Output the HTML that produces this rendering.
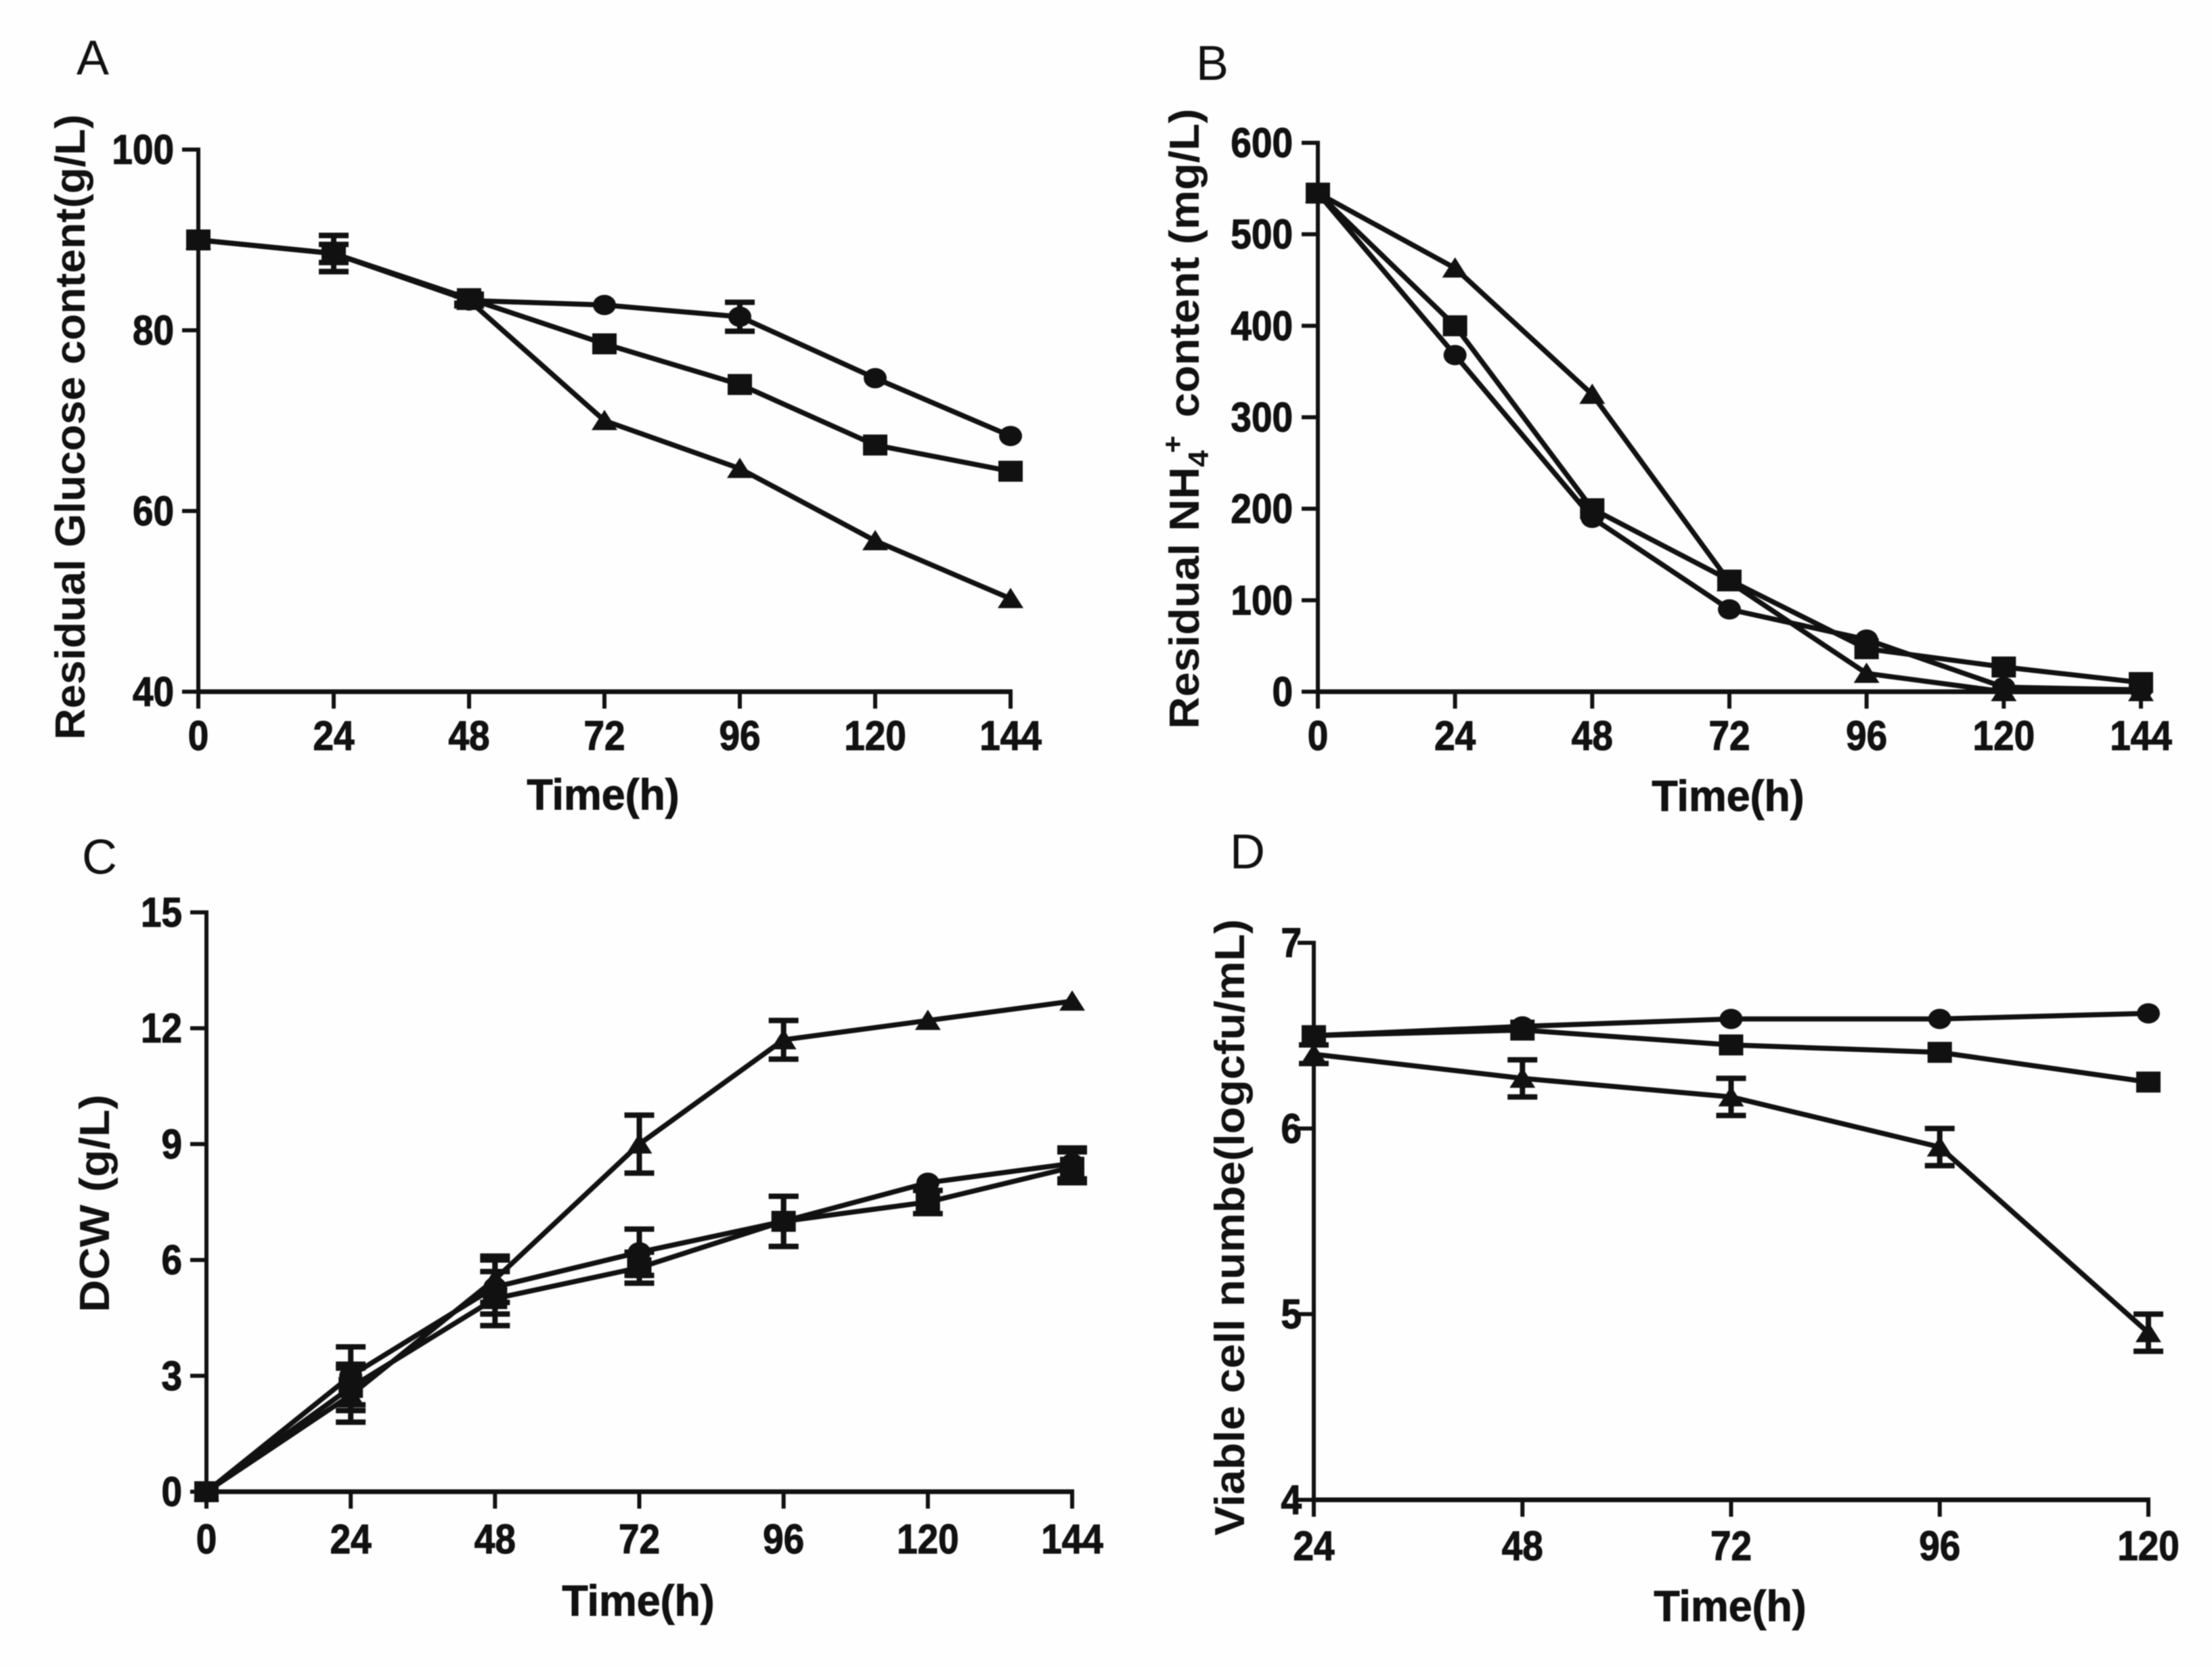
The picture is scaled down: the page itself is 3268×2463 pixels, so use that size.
<!DOCTYPE html>
<html>
<head>
<meta charset="utf-8">
<title>Fermentation time courses</title>
<style>
html,body{margin:0;padding:0;background:#fefefe;}
svg{display:block;filter:blur(0.8px);}
text{font-family:"Liberation Sans",Arial,sans-serif;fill:#111;}
</style>
</head>
<body>
<svg id="figure" width="3268" height="2463" viewBox="0 0 3268 2463" xmlns="http://www.w3.org/2000/svg">
<rect width="3268" height="2463" fill="#fefefe"/>
</svg>
<script>
// Panel A: residual glucose
const aHours = [0, 24, 48, 72, 96, 120, 144];
const aYTicks = [40, 60, 80, 100];
const aCircle = [90, 88.5, 83.3, 82.8, 81.5, 74.7, 68.3];
const aSquare = [90, 88.5, 83.5, 78.5, 74, 67.3, 64.4];
const aTriangle = [90, 88.5, 83.3, 70, 64.7, 56.7, 50.3];
const aCircleErr = [0, 2, 0.6, 0, 1.6, 0, 0];
const aSquareErr = [0, 1, 0.5, 0, 0, 0, 0];
const aTriangleErr = [0, 2, 0.5, 0, 0, 0, 0];

// Panel B: residual ammonium
const bHours = [0, 24, 48, 72, 96, 120, 144];
const bYTicks = [0, 100, 200, 300, 400, 500, 600];
const bCircle = [545, 368, 190, 90, 57, 5, 2];
const bSquare = [545, 400, 200, 122, 47, 27, 10];
const bTriangle = [545, 463, 325, 120, 20, 0, 0];
const bCircleErr = [0, 0, 0, 0, 0, 0, 0];
const bSquareErr = [0, 0, 0, 0, 0, 0, 0];
const bTriangleErr = [0, 0, 0, 0, 0, 0, 0];

// Panel C: dry cell weight
const cHours = [0, 24, 48, 72, 96, 120, 144];
const cYTicks = [0, 3, 6, 9, 12, 15];
const cCircle = [0, 3, 5.3, 6.2, 7, 8, 8.5];
const cSquare = [0, 2.7, 5, 5.8, 7, 7.5, 8.4];
const cTriangle = [0, 2.5, 5.5, 9, 11.7, 12.2, 12.7];
const cCircleErr = [0, 0.75, 0.7, 0.6, 0.65, 0, 0.4];
const cSquareErr = [0, 0.6, 0.7, 0.4, 0.65, 0.3, 0.4];
const cTriangleErr = [0, 0.7, 0.6, 0.75, 0.5, 0, 0];

// Panel D: viable cell number
const dHours = [24, 48, 72, 96, 120];
const dYTicks = [4, 5, 6, 7];
const dCircle = [6.5, 6.55, 6.59, 6.59, 6.62];
const dSquare = [6.5, 6.53, 6.45, 6.41, 6.25];
const dTriangle = [6.4, 6.27, 6.17, 5.9, 4.9];
const dCircleErr = [0, 0, 0, 0, 0];
const dSquareErr = [0, 0, 0, 0, 0];
const dTriangleErr = [0.05, 0.1, 0.1, 0.1, 0.1];

const NS = 'http://www.w3.org/2000/svg';
const INK = '#111';
const root = document.getElementById('figure');

function make(tag, attrs, parent) {
  const el = document.createElementNS(NS, tag);
  for (const k in attrs) el.setAttribute(k, attrs[k]);
  parent.appendChild(el);
  return el;
}

function tickText(parent, str, x, y, anchor) {
  const el = make('text', {
    transform: 'translate(' + x + ' ' + y + ') scale(0.9 1)',
    'font-size': 61, 'font-weight': 'bold', 'text-anchor': anchor,
    stroke: INK, 'stroke-width': 1.2
  }, parent);
  el.textContent = str;
  return el;
}

function drawPanel(p) {
  const xs = v => p.x0 + (v - p.xMin) / (p.xMax - p.xMin) * (p.x1 - p.x0);
  const ys = v => p.y0 + (v - p.yMin) / (p.yMax - p.yMin) * (p.y1 - p.y0);

  const g = make('g', {}, root);
  
  

  const letter = make('text', { x: p.letterX, y: p.letterY, 'font-size': 72 }, g);
  letter.textContent = p.id.toUpperCase();
  
  

  const axisStyle = { stroke: INK, 'stroke-width': 6, fill: 'none' };
  const yAxis = make('line', Object.assign({ x1: p.x0, x2: p.x0, y1: p.y0 + 3, y2: p.y1 - 3 }, axisStyle), g);
  
  
  const xAxis = make('line', Object.assign({ x1: p.x0 - 3, x2: p.x1 + 3, y1: p.y0, y2: p.y0 }, axisStyle, { 'stroke-width': 7 }), g);
  
  

  p.hours.forEach(h => {
    const t = make('line', Object.assign({ x1: xs(h), x2: xs(h), y1: p.y0, y2: p.y0 + 25 }, axisStyle), g);
    
    
    const lab = tickText(g, String(h), xs(h), p.xLabelY, 'middle');
    
    
  });
  p.yTicks.forEach(v => {
    const t = make('line', Object.assign({ x1: p.x0 - 24, x2: p.x0, y1: ys(v), y2: ys(v) }, axisStyle), g);
    
    
    const lab = tickText(g, String(v), p.yLabelX, ys(v) + 21, 'end');
    
    
  });

  const xTitle = make('text', {
    transform: 'translate(' + p.xTitleX + ' ' + p.xTitleY + ') scale(0.98 1)',
    'font-size': 64, 'font-weight': 'bold', 'text-anchor': 'middle',
    stroke: INK, 'stroke-width': 1
  }, g);
  xTitle.textContent = 'Time(h)';
  
  

  const yTitle = make('text', {
    transform: 'translate(' + p.yTitleX + ' ' + p.yTitleBottom + ') rotate(-90)' + (p.yTitleScale ? ' scale(' + p.yTitleScale + ' 1)' : ''),
    'font-size': 62, 'font-weight': 'bold'
  }, g);
  if (p.yTitleParts) {
    p.yTitleParts.forEach(part => {
      const s = make('tspan', part.attrs, yTitle);
      s.textContent = part.text;
    });
  } else {
    yTitle.textContent = p.yTitle;
    yTitle.setAttribute('textLength', p.yTitleLen);
    yTitle.setAttribute('lengthAdjust', 'spacingAndGlyphs');
  }
  
  

  p.series.forEach(s => {
    const sg = make('g', {}, g);
    
    

    const pts = p.hours.map((h, i) => xs(h) + ',' + ys(s.values[i])).join(' ');
    const line = make('polyline', { points: pts, fill: 'none', stroke: INK, 'stroke-width': 7.5, 'stroke-linejoin': 'round' }, sg);
    
    

    p.hours.forEach((h, i) => {
      const cx = xs(h), cy = ys(s.values[i]);
      const e = s.err[i];
      if (e > 0) {
        const top = ys(s.values[i] + e), bot = ys(s.values[i] - e);
        const d = 'M' + (cx - 22) + ' ' + top + 'H' + (cx + 22) + 'M' + cx + ' ' + top + 'V' + bot + 'M' + (cx - 22) + ' ' + bot + 'H' + (cx + 22);
        const bar = make('path', { d: d, fill: 'none', stroke: INK, 'stroke-width': 8 }, sg);
        
        
      }
      let m;
      if (s.kind === 'circle') {
        m = make('ellipse', { cx: cx, cy: cy, rx: 17, ry: 15, fill: INK }, sg);
      } else if (s.kind === 'square') {
        m = make('rect', { x: cx - 18, y: cy - 15.5, width: 36, height: 31, fill: INK }, sg);
      } else {
        m = make('path', { d: 'M' + cx + ' ' + (cy - 16) + 'L' + (cx + 19) + ' ' + (cy + 14) + 'L' + (cx - 19) + ' ' + (cy + 14) + 'Z', fill: INK }, sg);
      }
      
      
    });
  });
}

drawPanel({
  id: 'a', hours: aHours, yTicks: aYTicks,
  xMin: 0, xMax: 144, yMin: 40, yMax: 100,
  x0: 293, x1: 1493, y0: 1022, y1: 221,
  xLabelY: 1108, yLabelX: 257, xTitleX: 891, xTitleY: 1196,
  yTitle: 'Residual Glucose content(g/L)', yTitleX: 125, yTitleBottom: 1093, yTitleLen: 924,
  letterX: 113, letterY: 110,
  series: [
    { kind: 'circle', values: aCircle, err: aCircleErr },
    { kind: 'triangle', values: aTriangle, err: aTriangleErr },
    { kind: 'square', values: aSquare, err: aSquareErr }
  ]
});

drawPanel({
  id: 'b', hours: bHours, yTicks: bYTicks,
  xMin: 0, xMax: 144, yMin: 0, yMax: 600,
  x0: 1947, x1: 3163, y0: 1022, y1: 211,
  xLabelY: 1108, yLabelX: 1910, xTitleX: 2553, xTitleY: 1198,
  yTitleParts: [
    { text: 'Residual NH', attrs: {} },
    { text: '4', attrs: { 'font-size': 42, dy: 14 } },
    { text: '+', attrs: { 'font-size': 42, dy: -38, dx: -4 } },
    { text: ' content (mg/L)', attrs: { dy: 24, dx: 8 } }
  ],
  yTitleX: 1771, yTitleBottom: 1077, yTitleScale: 1.06,
  letterX: 1767, letterY: 118,
  series: [
    { kind: 'circle', values: bCircle, err: bCircleErr },
    { kind: 'triangle', values: bTriangle, err: bTriangleErr },
    { kind: 'square', values: bSquare, err: bSquareErr }
  ]
});

drawPanel({
  id: 'c', hours: cHours, yTicks: cYTicks,
  xMin: 0, xMax: 144, yMin: 0, yMax: 15,
  x0: 305, x1: 1584, y0: 2204, y1: 1348,
  xLabelY: 2295, yLabelX: 269, xTitleX: 943, xTitleY: 2387,
  yTitle: 'DCW (g/L)', yTitleX: 161, yTitleBottom: 1939, yTitleLen: 322,
  letterX: 121, letterY: 1291,
  series: [
    { kind: 'circle', values: cCircle, err: cCircleErr },
    { kind: 'square', values: cSquare, err: cSquareErr },
    { kind: 'triangle', values: cTriangle, err: cTriangleErr }
  ]
});

drawPanel({
  id: 'd', hours: dHours, yTicks: dYTicks,
  xMin: 24, xMax: 120, yMin: 4, yMax: 7,
  x0: 1941, x1: 3174, y0: 2216, y1: 1393,
  xLabelY: 2305, yLabelX: 1923, xTitleX: 2556, xTitleY: 2395,
  yTitle: 'Viable cell numbe(logcfu/mL)', yTitleX: 1838, yTitleBottom: 2269, yTitleLen: 911,
  letterX: 1817, letterY: 1283,
  series: [
    { kind: 'circle', values: dCircle, err: dCircleErr },
    { kind: 'triangle', values: dTriangle, err: dTriangleErr },
    { kind: 'square', values: dSquare, err: dSquareErr }
  ]
});
</script>
</body>
</html>
